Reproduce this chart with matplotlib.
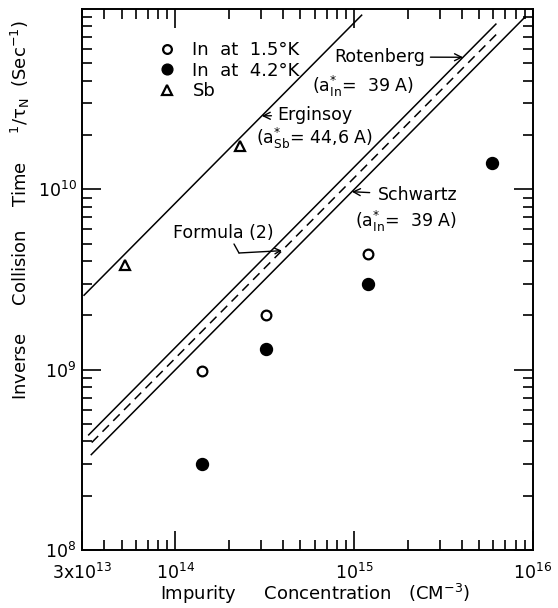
import numpy as np
import matplotlib
matplotlib.use("Agg")
import matplotlib.pyplot as plt
from matplotlib.ticker import FixedLocator, NullFormatter, LogLocator

plt.rcParams['font.family'] = ['DejaVu Sans']
plt.rcParams['mathtext.default'] = 'regular'

# ---- data ----
in15_N = [1.4e14, 3.2e14, 1.2e15]
in15_rate = [9.8e8, 2.0e9, 4.4e9]
in42_N = [1.4e14, 3.2e14, 1.2e15, 5.9e15]
in42_rate = [3.0e8, 1.3e9, 3.0e9, 1.4e10]
sb_N = [5.2e13, 2.3e14]
sb_rate = [3.8e9, 1.73e10]

# theory lines: rate = k * N  (slope 1 on log-log)
erginsoy_k = 8.4e-5
erginsoy_range = [3.08e13, 1.1e15]
rotenberg_k = 1.33e-5
rotenberg_range = [3.27e13, 6.2e15]
formula_k = 1.16e-5
formula_range = [3.4e13, 6.4e15]
schwartz_k = 1.0e-5
schwartz_range = [3.38e13, 9.0e15]

x_ticks = [3e13, 1e14, 1e15, 1e16]
x_ticklabels = ['3x10$^{13}$', '10$^{14}$', '10$^{15}$', '10$^{16}$']
y_ticks = [1e8, 1e9, 1e10]
y_ticklabels = ['10$^{8}$', '10$^{9}$', '10$^{10}$']

fig = plt.figure(figsize=(5.58, 6.08), dpi=100)
ax = fig.add_axes([82/558, 1-550/608, (533-82)/558, (550-9)/608])
ax.set_xscale('log')
ax.set_yscale('log')
ax.set_xlim(3e13, 1e16)
ax.set_ylim(1e8, 1e11)

def line(k, rng, **kw):
    n = np.array(rng)
    ax.plot(n, k * n, color='black', **kw)

line(erginsoy_k, erginsoy_range, lw=1.1)
line(rotenberg_k, rotenberg_range, lw=1.1)
line(formula_k, formula_range, lw=1.1, dashes=(6, 4))
line(schwartz_k, schwartz_range, lw=1.1)

h1, = ax.plot(in15_N, in15_rate, 'o', mfc='white', mec='black', mew=1.6, ms=7, ls='none',
              label='In  at  1.5°K')
h2, = ax.plot(in42_N, in42_rate, 'o', mfc='black', mec='black', ms=8.6, ls='none',
              label='In  at  4.2°K')
h3, = ax.plot(sb_N, sb_rate, '^', mfc='white', mec='black', mew=1.6, ms=7.5, ls='none',
              label='Sb')

leg = ax.legend(handles=[h1, h2, h3], loc='upper left',
                bbox_to_anchor=((160-82)/451, (550-41)/541), frameon=False,
                fontsize=13, handlelength=0.8, handletextpad=1.0, borderpad=0,
                labelspacing=0.15, borderaxespad=0, markerscale=0.9)

# ---- ticks ----
ax.xaxis.set_major_locator(FixedLocator(x_ticks))
ax.set_xticklabels(x_ticklabels)
ax.xaxis.set_minor_locator(LogLocator(base=10, subs=np.arange(2, 10)))
ax.xaxis.set_minor_formatter(NullFormatter())
ax.yaxis.set_major_locator(FixedLocator(y_ticks))
ax.set_yticklabels(y_ticklabels)
ax.yaxis.set_minor_locator(LogLocator(base=10, subs=np.arange(2, 10)))
ax.yaxis.set_minor_formatter(NullFormatter())
ax.tick_params(which='both', direction='in', top=True, right=True, width=1.2, labelsize=12.5)
ax.tick_params(which='major', length=14)
ax.tick_params(which='minor', length=7)
ax.tick_params(axis='x', which='major', pad=9)
ax.tick_params(axis='y', which='major', pad=4)
for s in ax.spines.values():
    s.set_linewidth(1.4)

# ---- annotations ----
fs = 12.5
arrow = dict(arrowstyle='->', color='black', lw=1.0, shrinkA=2, shrinkB=0)
T = ax.transAxes

def fx(px):
    return (px - 82) / 451

def fy(py):
    return (550 - py) / 541

rot_tip = 4.06e15
ax.annotate('Rotenberg', xy=(rot_tip, rotenberg_k * rot_tip), xycoords='data',
            xytext=(fx(334), fy(57)), textcoords='axes fraction',
            ha='left', va='center', fontsize=fs, arrowprops=arrow)
ax.text(fx(312), fy(86), '($a^{*}_{In}$=  39 A)', ha='left', va='center', fontsize=fs,
        transform=T)

erg_tip = 3.04e14
ax.annotate('Erginsoy', xy=(erg_tip, erginsoy_k * erg_tip), xycoords='data',
            xytext=(fx(277), fy(115)), textcoords='axes fraction',
            ha='left', va='center', fontsize=fs, arrowprops=arrow)
ax.text(fx(256), fy(138), '($a^{*}_{Sb}$= 44,6 A)', ha='left', va='center', fontsize=fs,
        transform=T)

sch_tip = 9.7e14
ax.annotate('Schwartz', xy=(sch_tip, schwartz_k * sch_tip), xycoords='data',
            xytext=(fx(378), fy(195)), textcoords='axes fraction',
            ha='left', va='center', fontsize=fs,
            arrowprops=dict(arrowstyle='->', color='black', lw=1.0, shrinkA=4, shrinkB=0))
ax.text(fx(355), fy(221), '($a^{*}_{In}$=  39 A)', ha='left', va='center', fontsize=fs,
        transform=T)

ax.text(fx(173), fy(233), 'Formula (2)', ha='left', va='center', fontsize=fs, transform=T)
form_tip = 3.94e14
ax.annotate('', xy=(fx(239), fy(253)), xycoords='axes fraction',
            xytext=(fx(234), fy(244)), textcoords='axes fraction',
            arrowprops=dict(arrowstyle='-', color='black', lw=1.0, shrinkA=0, shrinkB=0))
ax.annotate('', xy=(form_tip, formula_k * form_tip), xycoords='data',
            xytext=(fx(239), fy(253)), textcoords='axes fraction',
            arrowprops=dict(arrowstyle='->', color='black', lw=1.0, shrinkA=0, shrinkB=0))

# ---- axis titles ----
fig.text(315/558, 1-594/608, 'Impurity     Concentration   (CM$^{-3}$)',
         ha='center', va='center', fontsize=13)
fig.text(20/558, 1-210/608,
         'Inverse     Collision    Time     $^{1}/\\tau_{N}$  (Sec$^{-1}$)',
         ha='center', va='center', rotation=90, fontsize=13)

fig.savefig('out.png', dpi=100)
